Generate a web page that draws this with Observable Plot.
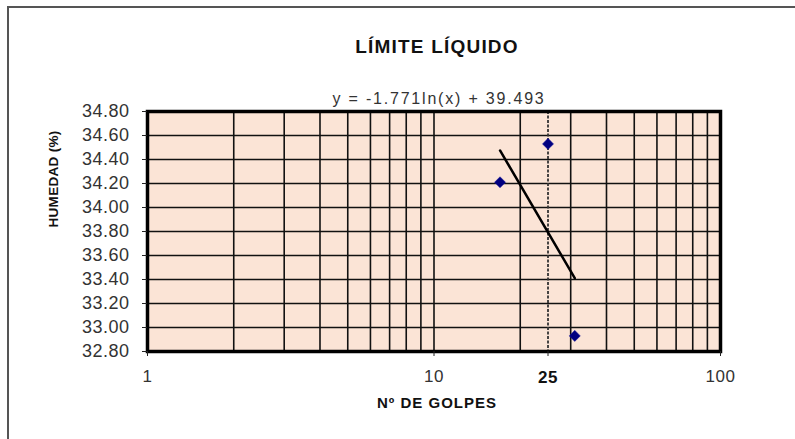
<!DOCTYPE html>
<html>
<head>
<meta charset="utf-8">
<script src="https://cdn.jsdelivr.net/npm/d3@7"></script>
<script src="https://cdn.jsdelivr.net/npm/@observablehq/plot@0.6"></script>
<style>
  html, body { margin: 0; padding: 0; background: #fff; }
  #wrap { position: relative; width: 795px; height: 439px; overflow: hidden; }
  #box {
    position: absolute; left: 7px; top: 6px; width: 800px; height: 431px;
    border-left: 2px solid #555; border-top: 2px solid #555;
    border-bottom: 1px solid #d0d0d0; pointer-events: none;
  }
  svg { position: absolute; left: 0; top: 0; }
</style>
</head>
<body>
<div id="wrap"><div id="box"></div></div>
<script>
// Ensayo de límite líquido: número de golpes vs. humedad
const golpes = [17, 25, 31];
const humedad = [34.21, 34.53, 32.93];

// Línea de tendencia logarítmica y = a·ln(x) + b
const coefA = -1.771;
const coefB = 39.493;
const ecuacion = "y = -1.771ln(x) + 39.493";

// Marcador de 25 golpes
const golpesRef = 25;

// Ejes y rejilla
const yTicks = [32.8, 33.0, 33.2, 33.4, 33.6, 33.8, 34.0, 34.2, 34.4, 34.6, 34.8];
const xTicks = [1, 10, 100];
const xGrid = [2, 3, 4, 5, 6, 7, 8, 9, 10, 20, 30, 40, 50, 60, 70, 80, 90];

const titulo = "LÍMITE LÍQUIDO";
const tituloX = "Nº DE GOLPES";
const tituloY = "HUMEDAD (%)";

const puntos = golpes.map((g, i) => ({golpes: g, humedad: humedad[i]}));
const xMin = d3.min(golpes), xMax = d3.max(golpes);
const tendencia = [xMin, xMax].map(g => ({golpes: g, humedad: coefA * Math.log(g) + coefB}));

// texto anclado al marco, sin canales de posición
const etiqueta = (s, opts) => Plot.text([s], {x: null, y: null, text: d => d, ...opts});

const chart = Plot.plot({
  width: 795,
  height: 439,
  marginLeft: 147,
  marginRight: 75,
  marginTop: 111,
  marginBottom: 88,
  style: {fontFamily: "'Liberation Sans', Arial, sans-serif", background: "transparent", color: "#333"},
  x: {type: "log", domain: [1, 100]},
  y: {domain: [32.8, 34.8]},
  marks: [
    Plot.frame({fill: "#fbe4d6"}),
    Plot.ruleX(xGrid, {stroke: "#111", strokeWidth: 1.6}),
    Plot.ruleY(yTicks, {stroke: "#111", strokeWidth: 1.6}),
    Plot.ruleX([golpesRef], {stroke: "#333", strokeWidth: 1.8, strokeDasharray: "3,1.5"}),
    Plot.frame({stroke: "#000", strokeWidth: 3.5}),
    Plot.axisY({ticks: yTicks, tickFormat: d => d.toFixed(2), tickSize: 5, tickPadding: 13,
      fontSize: 18, label: null, stroke: "#222"}),
    Plot.axisX({ticks: [...xTicks, golpesRef], tickFormat: d => xTicks.includes(d) ? String(d) : "",
      tickSize: 5, tickPadding: 13, fontSize: 17, label: null, stroke: "#222"}),
    Plot.text([golpesRef], {x: d => d, y: null, frameAnchor: "bottom", dy: 31, text: d => String(d),
      fontSize: 17, fontWeight: "bold", fill: "#111"}),
    Plot.line(tendencia, {x: "golpes", y: "humedad", stroke: "#000", strokeWidth: 2.5}),
    Plot.dot(puntos, {x: "golpes", y: "humedad", symbol: "diamond2", r: 5, fill: "#000080", stroke: "#1a1aa0", strokeWidth: 0.5}),
    // títulos
    etiqueta(titulo, {frameAnchor: "top", dy: -72, dx: 3, fontSize: 19, fontWeight: "bold", fill: "#111"}),
    etiqueta(ecuacion, {frameAnchor: "top", dy: -19, dx: 5, fontSize: 16, fill: "#333"}),
    etiqueta(tituloX, {frameAnchor: "bottom", dy: 56, dx: 3, fontSize: 15, fontWeight: "bold", fill: "#111"}),
    etiqueta(tituloY, {frameAnchor: "left", dx: -94, dy: -4, rotate: -90, fontSize: 13.5, fontWeight: "bold", fill: "#111"})
  ]
});

// espaciado de letras de los textos
const espaciado = new Map([[titulo, "1.2px"], [ecuacion, "1.8px"], [tituloX, "1px"], [tituloY, "0.3px"]]);
d3.select(chart).selectAll("text").each(function () {
  const s = this.textContent;
  if (espaciado.has(s)) d3.select(this).style("letter-spacing", espaciado.get(s));
  else if (/^\d+(\.\d+)?$/.test(s)) d3.select(this).style("letter-spacing", "0.5px");
});
document.getElementById("wrap").appendChild(chart);
</script>
</body>
</html>
